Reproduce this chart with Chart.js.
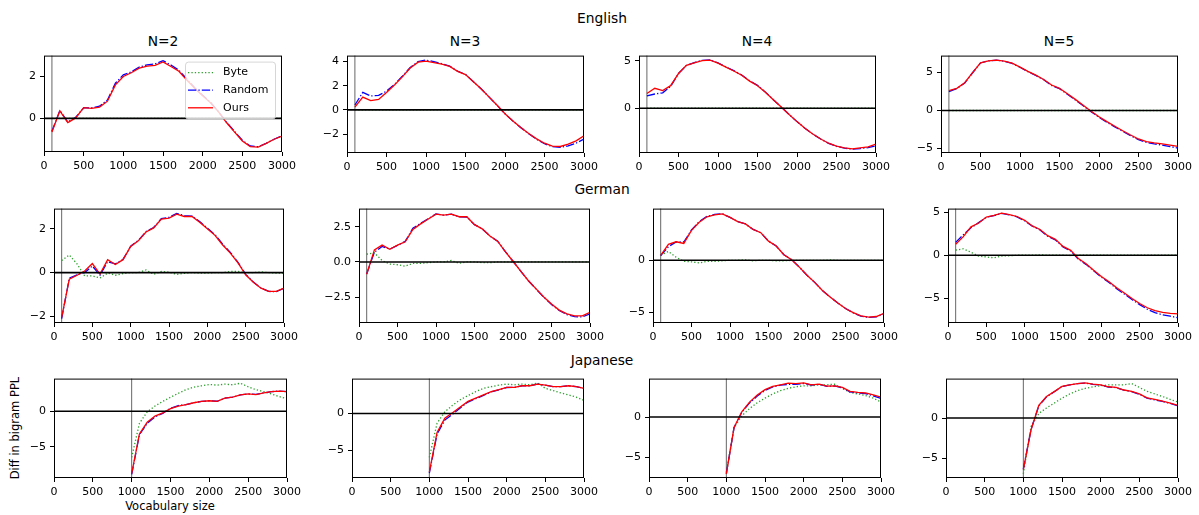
<!DOCTYPE html>
<html>
<head>
<meta charset="utf-8">
<script src="https://cdn.jsdelivr.net/npm/chart.js@4.4.1/dist/chart.umd.min.js"></script>
<style>
  body { margin: 0; background: #fff; width: 1199px; height: 515px; position: relative; overflow: hidden;
         font-family: 'DejaVu Sans', sans-serif; color: #000; }
  .panel { position: absolute; }
  .lbl { position: absolute; transform: translate(-50%, -50%); white-space: nowrap; line-height: 1; }
  .title { font-size: 13.8px; }
  .axlbl { font-size: 11.5px; }
</style>
</head>
<body>
<div class="lbl title" style="left:602px;top:19px">English</div>
<div class="lbl title" style="left:602px;top:190px">German</div>
<div class="lbl title" style="left:602px;top:361px">Japanese</div>
<div class="lbl title" style="left:163px;top:42px">N=2</div>
<div class="lbl title" style="left:465px;top:42px">N=3</div>
<div class="lbl title" style="left:757px;top:42px">N=4</div>
<div class="lbl title" style="left:1059px;top:42px">N=5</div>
<div class="lbl axlbl" style="left:170px;top:507px">Vocabulary size</div>
<div class="lbl axlbl" style="left:16px;top:428px;transform:translate(-50%,-50%) rotate(-90deg)">Diff in bigram PPL</div>
<script>
// --- x values ---
const xsFull = [100,200,300,400,500,600,700,800,900,1000,1100,1200,1300,1400,1500,1600,1700,1800,1900,2000,2100,2200,2300,2400,2500,2600,2700,2800,2900,3000];
const xsJa = [1000,1100,1200,1300,1400,1500,1600,1700,1800,1900,2000,2100,2200,2300,2400,2500,2600,2700,2800,2900,3000];
const xTicks = [0,500,1000,1500,2000,2500,3000];

// --- English ---
const enByte = [0,0,0,0,0,0,0,0,0,0,0,0,0,0,0,0,0,0,0,0,0,0,0,0,0,0,0,0,0,0];
const en2Random = [-0.62,0.38,-0.18,0.05,0.5,0.5,0.58,0.88,1.68,2.08,2.22,2.45,2.56,2.6,2.76,2.55,2.3,1.88,1.46,1.1,0.76,0.32,-0.18,-0.62,-1.05,-1.32,-1.36,-1.2,-1.0,-0.84];
const en2Ours = [-0.65,0.36,-0.2,0.02,0.51,0.48,0.54,0.82,1.6,2.0,2.18,2.4,2.5,2.53,2.7,2.48,2.25,1.83,1.44,1.08,0.74,0.31,-0.2,-0.65,-1.08,-1.35,-1.38,-1.2,-1.0,-0.85];
const en3Random = [0.4,1.45,1.15,1.2,1.55,2.1,2.78,3.5,4.0,4.12,4.0,3.82,3.62,3.2,2.93,2.33,1.73,1.05,0.38,-0.33,-0.93,-1.47,-1.97,-2.43,-2.8,-3.05,-3.1,-2.98,-2.75,-2.42];
const en3Ours = [0.22,1.05,0.76,0.86,1.43,2.05,2.73,3.46,3.95,4.03,3.9,3.78,3.6,3.19,2.92,2.32,1.73,1.05,0.38,-0.32,-0.92,-1.46,-1.95,-2.4,-2.76,-3.0,-3.03,-2.84,-2.57,-2.14];
const en4Random = [1.3,1.5,1.62,2.3,3.66,4.52,4.82,5.05,5.1,4.78,4.36,3.96,3.5,2.9,2.42,1.7,0.9,0.14,-0.66,-1.41,-2.1,-2.72,-3.25,-3.7,-4.02,-4.2,-4.32,-4.25,-4.15,-3.95];
const en4Ours = [1.55,2.1,1.86,2.38,3.66,4.52,4.79,5.03,5.07,4.76,4.34,3.93,3.48,2.86,2.38,1.69,0.9,0.14,-0.66,-1.41,-2.1,-2.72,-3.24,-3.69,-4.0,-4.17,-4.28,-4.17,-4.07,-3.79];
const en5Random = [2.5,2.88,3.62,4.98,6.27,6.55,6.63,6.5,6.22,5.7,5.13,4.62,4.05,3.3,2.88,2.14,1.4,0.62,-0.15,-0.9,-1.55,-2.15,-2.75,-3.32,-3.85,-4.2,-4.4,-4.55,-4.75,-4.95];
const en5Ours = [2.63,2.93,3.66,5.0,6.29,6.55,6.64,6.51,6.25,5.73,5.17,4.66,4.09,3.36,2.93,2.2,1.47,0.69,-0.09,-0.82,-1.47,-2.07,-2.67,-3.23,-3.75,-4.1,-4.27,-4.4,-4.57,-4.74];

// --- German ---
const de2Byte = [0.55,0.8,0.4,-0.15,-0.15,-0.25,-0.02,-0.12,-0.05,0.0,0.0,0.12,-0.08,0.05,0.02,-0.08,-0.03,0.0,-0.02,-0.02,0.0,0.0,0.05,0.05,0.0,0.0,0.03,0.0,-0.02,-0.03];
const de2Random = [-2.1,-0.25,-0.1,0.0,0.3,-0.12,0.5,0.4,0.6,1.2,1.47,1.87,2.06,2.46,2.52,2.7,2.6,2.58,2.33,2.03,1.73,1.3,0.92,0.47,-0.08,-0.43,-0.7,-0.86,-0.87,-0.72];
const de2Ours = [-2.04,-0.3,-0.12,0.07,0.41,-0.07,0.59,0.37,0.59,1.19,1.45,1.85,2.04,2.44,2.49,2.67,2.56,2.56,2.3,2.0,1.7,1.26,0.89,0.44,-0.1,-0.44,-0.71,-0.86,-0.86,-0.71];
const de3Byte = [0.55,0.65,0.1,-0.15,-0.2,-0.3,-0.1,-0.1,-0.05,0.0,0.0,0.1,-0.1,0.0,0.0,-0.05,-0.05,0.0,0.0,0.0,0.0,0.0,0.0,0.0,0.0,0.0,0.0,0.0,0.0,0.0];
const de3Random = [-0.85,0.7,1.1,0.92,1.18,1.46,2.4,2.75,3.08,3.42,3.33,3.4,3.22,3.2,2.66,2.36,1.85,1.48,0.74,0.05,-0.65,-1.34,-1.93,-2.52,-3.03,-3.46,-3.75,-3.9,-3.92,-3.7];
const de3Ours = [-0.88,0.86,1.2,0.9,1.2,1.44,2.32,2.71,3.06,3.4,3.33,3.4,3.22,3.22,2.66,2.36,1.85,1.48,0.74,0.05,-0.65,-1.34,-1.92,-2.5,-3.0,-3.43,-3.7,-3.84,-3.84,-3.59];
const de4Byte = [0.5,0.85,0.3,-0.1,-0.15,-0.25,-0.1,-0.1,-0.05,0.0,0.0,0.05,-0.05,0.0,0.0,-0.05,-0.05,0.0,0.0,0.0,0.0,0.0,0.03,0.0,0.0,0.0,0.0,0.0,0.0,0.0];
const de4Random = [0.45,1.3,1.75,1.75,2.9,3.7,4.2,4.38,4.45,4.1,3.7,3.48,2.95,2.64,1.83,1.37,0.53,0.06,-0.65,-1.43,-2.11,-2.89,-3.51,-4.07,-4.6,-5.02,-5.34,-5.46,-5.4,-5.1];
const de4Ours = [0.47,1.52,1.77,1.61,2.86,3.63,4.16,4.35,4.44,4.1,3.7,3.48,2.95,2.64,1.83,1.37,0.53,0.06,-0.65,-1.43,-2.11,-2.89,-3.51,-4.07,-4.6,-5.0,-5.31,-5.43,-5.37,-5.06];
const de5Byte = [0.6,0.75,0.35,-0.1,-0.2,-0.3,-0.1,-0.05,0.0,0.0,0.0,0.05,0.0,0.0,0.0,-0.03,0.0,0.0,0.0,0.0,0.0,0.0,0.0,0.0,0.0,0.0,0.0,0.0,0.0,0.0];
const de5Random = [1.5,2.4,3.2,3.8,4.42,4.62,4.88,4.72,4.48,4.02,3.38,2.95,2.22,1.8,0.98,0.5,-0.45,-1.06,-1.82,-2.55,-3.17,-3.9,-4.52,-5.17,-5.76,-6.3,-6.7,-6.95,-7.1,-7.3];
const de5Ours = [1.29,2.17,3.31,3.76,4.45,4.64,4.9,4.75,4.52,4.07,3.42,3.0,2.28,1.86,1.03,0.57,-0.38,-0.99,-1.75,-2.47,-3.08,-3.8,-4.41,-5.05,-5.63,-6.12,-6.46,-6.65,-6.77,-6.84];

// --- Japanese ---
const ja2Byte = [-6.5,-1.7,-0.1,0.73,1.38,1.97,2.52,3.03,3.39,3.58,3.76,3.67,3.81,3.72,3.94,3.44,3.03,2.75,2.43,2.06,1.74];
const ja2Random = [-8.9,-3.3,-1.7,-0.8,-0.3,0.4,0.8,0.92,1.2,1.38,1.47,1.4,1.83,1.97,2.29,2.43,2.36,2.57,2.75,2.84,2.75];
const ja2Ours = [-8.8,-3.2,-1.56,-0.69,-0.23,0.37,0.73,0.92,1.19,1.38,1.47,1.38,1.83,1.97,2.29,2.43,2.34,2.57,2.75,2.84,2.75];
const ja3Byte = [-5.97,-1.33,0.22,1.11,1.86,2.43,2.96,3.41,3.63,3.85,3.98,3.89,3.98,3.89,4.12,3.41,3.1,2.79,2.52,2.21,1.77];
const ja3Random = [-8.1,-2.8,-0.9,-0.1,0.75,1.55,2.0,2.45,2.92,3.2,3.52,3.54,3.76,3.76,3.98,3.85,3.63,3.63,3.76,3.63,3.41];
const ja3Ours = [-7.96,-2.57,-0.66,0.09,0.88,1.64,2.08,2.52,2.96,3.23,3.54,3.54,3.76,3.76,3.98,3.85,3.63,3.63,3.76,3.63,3.41];
const ja4Byte = [-6.8,-1.3,0.16,1.05,1.77,2.34,2.86,3.27,3.55,3.75,3.87,3.87,3.99,3.99,4.07,3.55,3.06,2.86,2.66,2.34,1.85];
const ja4Random = [-7.0,-1.3,0.6,1.75,2.6,3.3,3.72,3.95,4.05,4.05,4.15,3.97,4.05,3.8,3.85,3.6,3.12,3.0,2.9,2.62,2.3];
const ja4Ours = [-7.02,-1.29,0.65,1.85,2.74,3.39,3.79,3.99,4.19,4.15,4.23,3.99,4.07,3.83,3.87,3.67,3.19,3.06,2.98,2.74,2.46];
const ja5Byte = [-6.9,-1.05,0.56,1.25,1.85,2.46,2.98,3.39,3.67,3.87,3.99,4.11,4.11,4.11,4.27,3.79,3.31,2.98,2.66,2.3,1.98];
const ja5Random = [-6.3,-1.4,1.5,2.62,3.25,3.9,4.1,4.25,4.33,4.17,4.08,3.83,3.77,3.45,3.28,2.94,2.45,2.25,2.05,1.8,1.5];
const ja5Ours = [-6.37,-1.45,1.57,2.66,3.27,3.91,4.11,4.27,4.35,4.19,4.11,3.87,3.79,3.47,3.31,2.98,2.5,2.3,2.1,1.85,1.57];

// y axis ticks and limits per panel (row by row)
const yTicks = [[0,2],[-2,0,2,4],[0,5],[-5,0,5],[-2,0,2],[-2.5,0,2.5],[-5,0],[-5,0,5],[-5,0],[-5,0],[-5,0],[-5,0]];
const yLimits = [[-1.61,3.0],[-3.57,4.49],[-4.72,5.55],[-5.6,7.24],[-2.3,2.92],[-4.35,3.8],[-5.99,4.94],[-7.9,5.44],[-9.4,4.59],[-8.76,4.73],[-7.54,4.76],[-7.42,4.88]];
const startMarks = [100,100,100,100,100,100,100,100,1000,1000,1000,1000];

const panels = [
  { xs: xsFull, byte: enByte, random: en2Random, ours: en2Ours },
  { xs: xsFull, byte: enByte, random: en3Random, ours: en3Ours },
  { xs: xsFull, byte: enByte, random: en4Random, ours: en4Ours },
  { xs: xsFull, byte: enByte, random: en5Random, ours: en5Ours },
  { xs: xsFull, byte: de2Byte, random: de2Random, ours: de2Ours },
  { xs: xsFull, byte: de3Byte, random: de3Random, ours: de3Ours },
  { xs: xsFull, byte: de4Byte, random: de4Random, ours: de4Ours },
  { xs: xsFull, byte: de5Byte, random: de5Random, ours: de5Ours },
  { xs: xsJa, byte: ja2Byte, random: ja2Random, ours: ja2Ours },
  { xs: xsJa, byte: ja3Byte, random: ja3Random, ours: ja3Ours },
  { xs: xsJa, byte: ja4Byte, random: ja4Random, ours: ja4Ours },
  { xs: xsJa, byte: ja5Byte, random: ja5Random, ours: ja5Ours },
];

// plot area boxes on the page: left, top, width, height
const boxes = [
  [44,53,238,99],[347,53,237,100],[639,53,237,100],[941,53,237,100],
  [54,206,230,117],[359,206,231,117],[653,206,231,117],[948,206,230,117],
  [54,376,233,102],[352,376,232,102],[649,376,232,102],[946,376,232,102]
];

const YW = 40, XH = 24, PT = 8, PR = 24;
const FONT = "'DejaVu Sans', sans-serif";
const C_BYTE = '#2ca02c', C_RAND = '#0000ff', C_OURS = '#ff0000';
const LW = 1.3;
const DASH_DOT = [8.3, 2.1, 1.3, 2.1];
const DOTTED = [1.3, 2.1];

function toPts(xs, ys) {
  return xs.map((x, i) => ({ x: x, y: ys[i] }));
}
function fmtTick(v, dec) {
  return v.toFixed(dec).replace('-', '\u2212');
}

// frame, reference lines and legend
const framePlugin = {
  id: 'frame',
  beforeDatasetsDraw(chart, args, opts) {
    const { ctx, chartArea: a, scales } = chart;
    const vx = scales.x.getPixelForValue(opts.mark);
    ctx.save();
    ctx.strokeStyle = '#666';
    ctx.lineWidth = 1;
    ctx.beginPath();
    ctx.moveTo(vx, a.top);
    ctx.lineTo(vx, a.bottom);
    ctx.stroke();
    ctx.restore();
  },
  afterDatasetsDraw(chart) {
    const { ctx, chartArea: a, scales } = chart;
    const zy = scales.y.getPixelForValue(0);
    ctx.save();
    ctx.strokeStyle = '#000';
    ctx.lineWidth = 1.6;
    ctx.beginPath();
    ctx.moveTo(a.left, zy);
    ctx.lineTo(a.right, zy);
    ctx.stroke();
    ctx.restore();
  },
  afterDraw(chart, args, opts) {
    const { ctx, chartArea: a } = chart;
    ctx.save();
    ctx.strokeStyle = '#000';
    ctx.lineWidth = 1;
    ctx.strokeRect(a.left + 0.5, a.top + 0.5, a.width - 1, a.height - 1);
    if (opts.legend) {
      const w = 90, h = 57;
      const bx = a.right - 7 - w, by = a.top + 6;
      ctx.fillStyle = 'rgba(255,255,255,0.8)';
      ctx.strokeStyle = 'rgba(204,204,204,0.8)';
      ctx.beginPath();
      ctx.roundRect(bx + 0.5, by + 0.5, w, h, 3);
      ctx.fill();
      ctx.stroke();
      const items = [['Byte', C_BYTE, DOTTED], ['Random', C_RAND, DASH_DOT], ['Ours', C_OURS, []]];
      ctx.font = '11px ' + FONT;
      ctx.textBaseline = 'middle';
      items.forEach((it, k) => {
        const yy = by + 11 + k * 17.6;
        ctx.strokeStyle = it[1];
        ctx.lineWidth = LW;
        ctx.setLineDash(it[2]);
        ctx.beginPath();
        ctx.moveTo(bx + 3, yy);
        ctx.lineTo(bx + 28, yy);
        ctx.stroke();
        ctx.setLineDash([]);
        ctx.fillStyle = '#000';
        ctx.fillText(it[0], bx + 38, yy);
      });
    }
    ctx.restore();
  }
};

panels.forEach((p, i) => {
  const [L, T, W, H] = boxes[i];
  const div = document.createElement('div');
  div.className = 'panel';
  div.style.left = (L - YW) + 'px';
  div.style.top = (T - PT) + 'px';
  const cw = W + YW + PR, ch = H + XH + PT;
  const cv = document.createElement('canvas');
  cv.width = cw; cv.height = ch;
  cv.style.width = cw + 'px'; cv.style.height = ch + 'px';
  div.appendChild(cv);
  document.body.appendChild(div);

  const ticksY = yTicks[i];
  const dec = ticksY.some(v => !Number.isInteger(v)) ? 1 : 0;
  const tickFont = { family: FONT, size: 11 };

  new Chart(cv, {
    type: 'line',
    data: {
      datasets: [
        { label: 'Ours', data: toPts(p.xs, p.ours), borderColor: C_OURS, borderWidth: LW, order: 0 },
        { label: 'Random', data: toPts(p.xs, p.random), borderColor: C_RAND, borderWidth: LW, borderDash: DASH_DOT, order: 1 },
        { label: 'Byte', data: toPts(p.xs, p.byte), borderColor: C_BYTE, borderWidth: LW, borderDash: DOTTED, order: 2 }
      ]
    },
    options: {
      responsive: false,
      animation: false,
      events: [],
      layout: { padding: { top: PT, right: PR, left: 0, bottom: 0 } },
      elements: { point: { radius: 0 }, line: { tension: 0, fill: false } },
      plugins: {
        legend: { display: false },
        tooltip: { enabled: false },
        frame: { mark: startMarks[i], legend: i === 0 }
      },
      scales: {
        x: {
          type: 'linear', min: 0, max: 3000,
          afterBuildTicks: s => { s.ticks = xTicks.map(v => ({ value: v })); },
          afterFit: s => { s.height = XH; },
          ticks: { callback: v => String(v), color: '#000', font: tickFont, padding: 4, maxRotation: 0, autoSkip: false },
          grid: { drawOnChartArea: false, tickLength: 4, tickColor: '#000', color: '#000' },
          border: { display: false }
        },
        y: {
          type: 'linear', min: yLimits[i][0], max: yLimits[i][1],
          afterBuildTicks: s => { s.ticks = ticksY.map(v => ({ value: v })); },
          afterFit: s => { s.width = YW; },
          ticks: { callback: v => fmtTick(v, dec), color: '#000', font: tickFont, padding: 4, autoSkip: false },
          grid: { drawOnChartArea: false, tickLength: 4, tickColor: '#000', color: '#000' },
          border: { display: false }
        }
      }
    },
    plugins: [framePlugin]
  });
});
</script>
</body>
</html>
